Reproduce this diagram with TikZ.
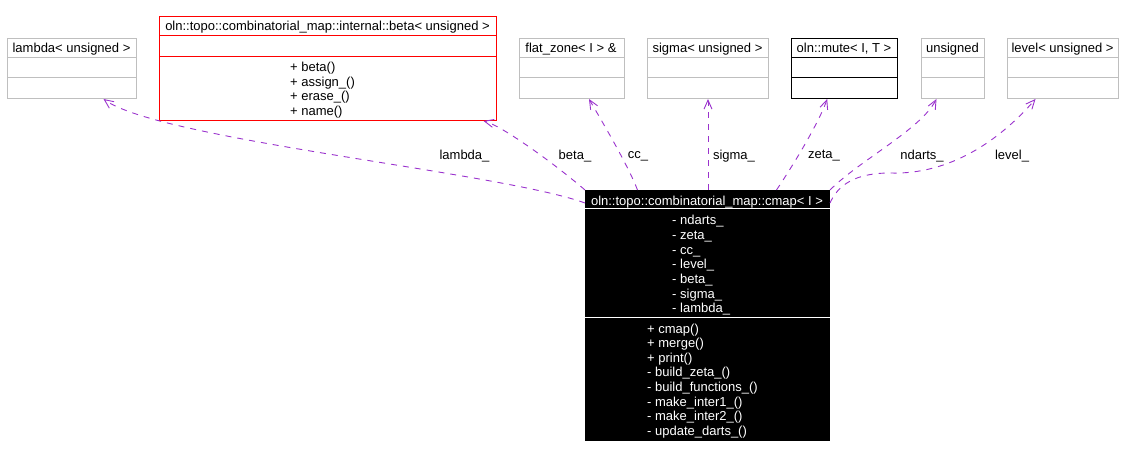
\documentclass[tikz,border=0pt]{standalone}
\usepackage{fontspec}
\setmainfont{Liberation Sans}
\usetikzlibrary{arrows.meta}
\definecolor{edgecol}{HTML}{9A32CD}
\definecolor{boxgray}{HTML}{BFBFBF}
\begin{document}
\begin{tikzpicture}[x=1pt,y=-1pt,
  font=\fontsize{13}{14.6}\selectfont,
  box/.style={draw=boxgray,line width=1pt,inner sep=0,anchor=north west,minimum height=60pt},
  sep/.style={draw=boxgray,line width=1pt},
  txt/.style={inner sep=0,anchor=base},
  ltxt/.style={inner sep=0,anchor=base west},
  wtxt/.style={inner sep=0,anchor=base west,text=white},
  uses/.style={draw=edgecol,line width=0.9pt,dash pattern=on 6pt off 6pt,
    -{Straight Barb[length=9pt,width=8pt]}},
  elabel/.style={inner sep=0}]
\useasboundingbox (0,0) rectangle (1124,457);

% ---- top boxes ----
\node[box,minimum width=129pt] (lambda) at (7,38) {};
\draw[sep] ([yshift=-20pt]lambda.north west) -- ([yshift=-20pt]lambda.north east);
\draw[sep] ([yshift=-40pt]lambda.north west) -- ([yshift=-40pt]lambda.north east);
\node[txt] (lambdaT) at (71.5,53) {lambda< unsigned >};

\node[box,draw=red,minimum width=337pt,minimum height=104pt] (beta) at (159,16) {};
\draw[sep,red] ([yshift=-20pt]beta.north west) -- ([yshift=-20pt]beta.north east);
\draw[sep,red] ([yshift=-41pt]beta.north west) -- ([yshift=-41pt]beta.north east);
\node[txt] (betaT) at (327.5,31) {oln::topo::combinatorial\_map::internal::beta< unsigned >};
\node[ltxt] (betaM1) at (290,72) {+ beta()};
\node[ltxt] (betaM2) at (290,86.5) {+ assign\_()};
\node[ltxt] (betaM3) at (290,101) {+ erase\_()};
\node[ltxt] (betaM4) at (290,115.5) {+ name()};

\node[box,minimum width=105pt] (flat) at (519,38) {};
\draw[sep] ([yshift=-20pt]flat.north west) -- ([yshift=-20pt]flat.north east);
\draw[sep] ([yshift=-40pt]flat.north west) -- ([yshift=-40pt]flat.north east);
\node[txt] (flatT) at (571,53) {flat\_zone< I > \&};

\node[box,minimum width=121pt] (sigma) at (647,38) {};
\draw[sep] ([yshift=-20pt]sigma.north west) -- ([yshift=-20pt]sigma.north east);
\draw[sep] ([yshift=-40pt]sigma.north west) -- ([yshift=-40pt]sigma.north east);
\node[txt] (sigmaT) at (707.5,53) {sigma< unsigned >};

\node[box,draw=black,minimum width=106pt] (mute) at (791,38) {};
\draw[sep,black] ([yshift=-20pt]mute.north west) -- ([yshift=-20pt]mute.north east);
\draw[sep,black] ([yshift=-40pt]mute.north west) -- ([yshift=-40pt]mute.north east);
\node[txt] (muteT) at (844,53) {oln::mute< I, T >};

\node[box,minimum width=63pt] (uns) at (921,38) {};
\draw[sep] ([yshift=-20pt]uns.north west) -- ([yshift=-20pt]uns.north east);
\draw[sep] ([yshift=-40pt]uns.north west) -- ([yshift=-40pt]uns.north east);
\node[txt] (unsT) at (952.5,53) {unsigned};

\node[box,minimum width=111pt] (level) at (1007,38) {};
\draw[sep] ([yshift=-20pt]level.north west) -- ([yshift=-20pt]level.north east);
\draw[sep] ([yshift=-40pt]level.north west) -- ([yshift=-40pt]level.north east);
\node[txt] (levelT) at (1062.5,53) {level< unsigned >};

% ---- main class ----
\node[box,draw=black,fill=black,minimum width=244pt,minimum height=250pt] (cmap) at (585,190) {};
\draw[white,line width=1pt] ([yshift=-19pt]cmap.north west) -- ([yshift=-19pt]cmap.north east);
\draw[white,line width=1pt] ([yshift=-127pt]cmap.north west) -- ([yshift=-127pt]cmap.north east);
\node[txt,text=white] (cmapT) at (707,205.5) {oln::topo::combinatorial\_map::cmap< I >};
\node[wtxt] (a1) at (672,225) {- ndarts\_};
\node[wtxt] (a2) at (672,239.6) {- zeta\_};
\node[wtxt] (a3) at (672,254.2) {- cc\_};
\node[wtxt] (a4) at (672,268.8) {- level\_};
\node[wtxt] (a5) at (672,283.4) {- beta\_};
\node[wtxt] (a6) at (672,298) {- sigma\_};
\node[wtxt] (a7) at (672,312.6) {- lambda\_};
\node[wtxt] (m1) at (647,333) {+ cmap()};
\node[wtxt] (m2) at (647,347.6) {+ merge()};
\node[wtxt] (m3) at (647,362.2) {+ print()};
\node[wtxt] (m4) at (647,376.8) {- build\_zeta\_()};
\node[wtxt] (m5) at (647,391.4) {- build\_functions\_()};
\node[wtxt] (m6) at (647,406) {- make\_inter1\_()};
\node[wtxt] (m7) at (647,420.6) {- make\_inter2\_()};
\node[wtxt] (m8) at (647,435.2) {- update\_darts\_()};

% ---- connectors ----
\draw[uses] ([yshift=-13pt]cmap.north west) .. controls (500,172) and (160,140) .. ([xshift=31.5pt]lambda.south);
\draw[uses] (cmap.north west) .. controls (550,160) and (500,125) .. ([xshift=155.5pt]beta.south);
\draw[uses] ([xshift=-70pt]cmap.north) .. controls (628,165) and (600,118) .. ([xshift=17pt]flat.south);
\draw[uses] ([xshift=0.5pt]cmap.north) -- (sigma.south);
\draw[uses] ([xshift=69pt]cmap.north) .. controls (790,170) and (818,125) .. ([xshift=-17.3pt]mute.south);
\draw[uses] (cmap.north east) .. controls (860,160) and (920,130) .. ([xshift=-16.5pt]uns.south);
\draw[uses] ([yshift=-13pt]cmap.north east) .. controls (838,185) and (855,173) .. (890,173)
  .. controls (950,175) and (1000,140) .. ([xshift=-27.5pt]level.south);

% ---- connector labels ----
\node[elabel] (lLambda) at (464.5,156) {lambda\_};
\node[elabel] (lBeta) at (575,156) {beta\_};
\node[elabel] (lCc) at (638,156) {cc\_};
\node[elabel] (lSigma) at (734,156) {sigma\_};
\node[elabel] (lZeta) at (824,156) {zeta\_};
\node[elabel] (lNdarts) at (922,156) {ndarts\_};
\node[elabel] (lLevel) at (1012,156) {level\_};
\end{tikzpicture}
\end{document}
